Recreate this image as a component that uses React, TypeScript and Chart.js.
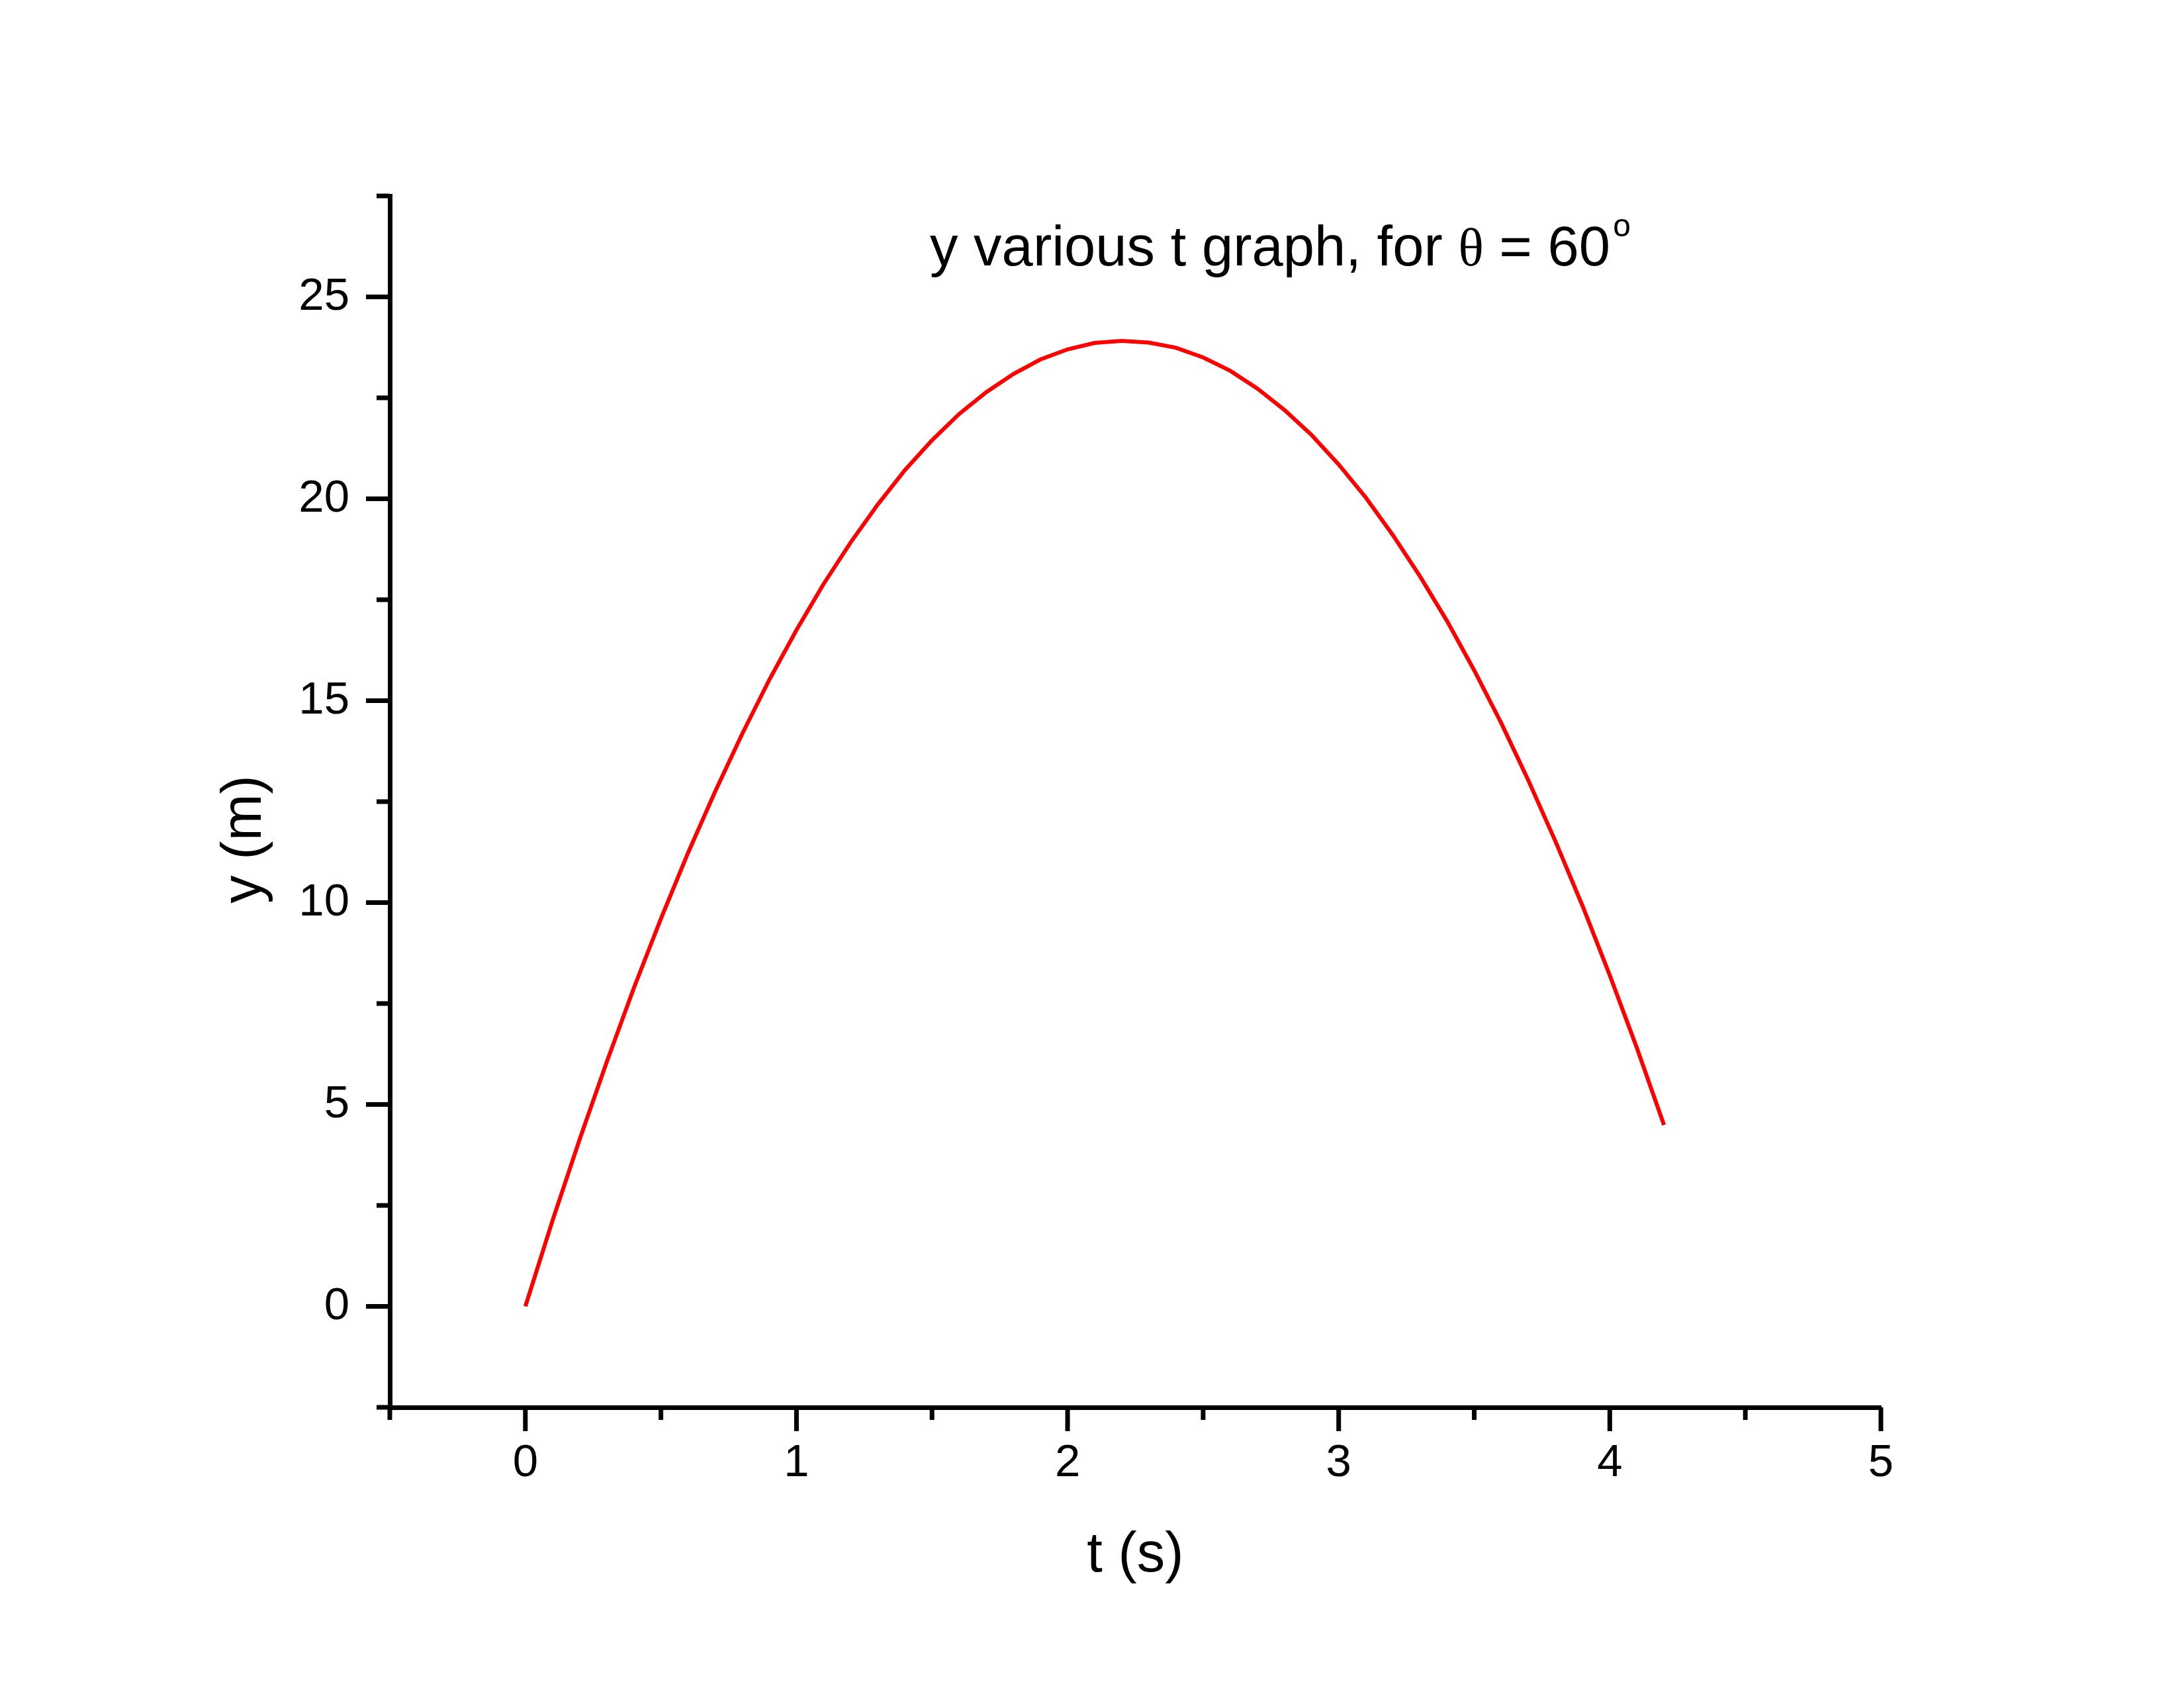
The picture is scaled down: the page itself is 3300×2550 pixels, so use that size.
import React, { useEffect, useRef } from "react";
import { Chart, registerables } from "chart.js";

Chart.register(...registerables);

const timeValues: number[] = [
  0, 0.1, 0.2, 0.3, 0.4, 0.5, 0.6, 0.7, 0.8, 0.9, 1.0, 1.1, 1.2, 1.3, 1.4, 1.5,
  1.6, 1.7, 1.8, 1.9, 2.0, 2.1, 2.2, 2.3, 2.4, 2.5, 2.6, 2.7, 2.8, 2.9, 3.0,
  3.1, 3.2, 3.3, 3.4, 3.5, 3.6, 3.7, 3.8, 3.9, 4.0, 4.1, 4.2,
];
const heightValues: number[] = [
  0, 2.12, 4.13, 6.05, 7.88, 9.6, 11.23, 12.75, 14.18, 15.52, 16.75, 17.89,
  18.92, 19.86, 20.71, 21.45, 22.1, 22.64, 23.09, 23.45, 23.7, 23.86, 23.91,
  23.87, 23.74, 23.5, 23.17, 22.73, 22.2, 21.58, 20.85, 20.03, 19.1, 18.08,
  16.97, 15.75, 14.44, 13.02, 11.51, 9.91, 8.2, 6.4, 4.49,
];

const xMin = -0.5;
const xMax = 5;
const xStep = 0.5;
const yMin = -2.5;
const yMax = 27.5;
const yStep = 2.5;

const titleParts = ["y various t graph, for ", "\u03b8", " = 60", "o"];
const xAxisTitle = "t (s)";
const yAxisTitle = "y (m)";

const SANS = "Arial, 'Liberation Sans', sans-serif";
const SERIF = "'Times New Roman', 'Liberation Serif', serif";

const decorPlugin = {
  id: "decor",
  afterDraw(chart: any) {
    const ctx = chart.ctx as CanvasRenderingContext2D;
    const area = chart.chartArea;
    const xs = chart.scales.x;
    const ys = chart.scales.y;
    ctx.save();
    ctx.strokeStyle = "#000";
    ctx.lineWidth = 7;
    ctx.lineCap = "butt";
    // x ticks
    xs.ticks.forEach((t: any) => {
      const px = xs.getPixelForValue(t.value);
      const major = Math.abs(t.value - Math.round(t.value)) < 1e-6;
      const len = major ? 36 : 19;
      ctx.beginPath();
      ctx.moveTo(px, area.bottom);
      ctx.lineTo(px, area.bottom + len);
      ctx.stroke();
    });
    // y ticks
    ys.ticks.forEach((t: any) => {
      const py = ys.getPixelForValue(t.value);
      const major = Math.abs(t.value / 5 - Math.round(t.value / 5)) < 1e-6;
      const len = major ? 36 : 20;
      ctx.beginPath();
      ctx.moveTo(area.left, py);
      ctx.lineTo(area.left - len, py);
      ctx.stroke();
    });

    ctx.fillStyle = "#000";
    ctx.textBaseline = "alphabetic";
    // title
    let x = area.left + 816;
    const base = area.top + 105;
    ctx.textAlign = "left";
    ctx.font = `85px ${SANS}`;
    ctx.fillText(titleParts[0], x, base);
    x += ctx.measureText(titleParts[0]).width;
    ctx.font = `80px ${SERIF}`;
    ctx.fillText(titleParts[1], x, base);
    x += ctx.measureText(titleParts[1]).width;
    ctx.font = `85px ${SANS}`;
    ctx.fillText(titleParts[2], x, base);
    x += ctx.measureText(titleParts[2]).width + 4;
    ctx.font = `48px ${SANS}`;
    ctx.fillText(titleParts[3], x, base - 44);

    // x axis title
    ctx.font = `85px ${SANS}`;
    ctx.textAlign = "center";
    ctx.fillText(xAxisTitle, (area.left + area.right) / 2, area.bottom + 248);

    // y axis title
    ctx.save();
    ctx.translate(area.left - 195, (area.top + area.bottom) / 2 + 57);
    ctx.rotate(-Math.PI / 2);
    ctx.textAlign = "center";
    ctx.fillText(yAxisTitle, 0, 0);
    ctx.restore();

    ctx.restore();
  },
};

export default function App() {
  const canvasRef = useRef<HTMLCanvasElement | null>(null);

  useEffect(() => {
    const canvas = canvasRef.current;
    if (!canvas) return;
    const points = timeValues.map((t, i) => ({ x: t, y: heightValues[i] }));
    const chart = new Chart(canvas, {
      type: "line",
      data: {
        datasets: [
          {
            data: points,
            borderColor: "#ff0000",
            borderWidth: 6,
            pointRadius: 0,
            tension: 0,
            fill: false,
          },
        ],
      },
      options: {
        animation: false,
        responsive: false,
        maintainAspectRatio: false,
        devicePixelRatio: 1,
        layout: { padding: { left: 0, top: 288, right: 450, bottom: 0 } },
        plugins: {
          legend: { display: false },
          title: { display: false },
          tooltip: { enabled: false },
        },
        scales: {
          x: {
            type: "linear",
            min: xMin,
            max: xMax,
            afterFit: (scale: any) => {
              scale.height = 416;
            },
            grid: { display: false, drawTicks: false, drawOnChartArea: false },
            border: { display: true, color: "#000", width: 7 },
            ticks: {
              stepSize: xStep,
              padding: 44,
              color: "#000",
              font: { family: SANS, size: 69 },
              maxRotation: 0,
              autoSkip: false,
              callback: (v: any) => {
                const n = Number(v);
                return Math.abs(n - Math.round(n)) < 1e-6 ? String(Math.round(n)) : "";
              },
            },
          },
          y: {
            type: "linear",
            min: yMin,
            max: yMax,
            afterFit: (scale: any) => {
              scale.width = 581;
            },
            grid: { display: false, drawTicks: false, drawOnChartArea: false },
            border: { display: true, color: "#000", width: 7 },
            ticks: {
              stepSize: yStep,
              padding: 61,
              color: "#000",
              font: { family: SANS, size: 69 },
              autoSkip: false,
              callback: (v: any) => {
                const n = Number(v);
                return Math.abs(n / 5 - Math.round(n / 5)) < 1e-6 ? String(Math.round(n)) : "";
              },
            },
          },
        },
      },
      plugins: [decorPlugin],
    } as any);
    return () => chart.destroy();
  }, []);

  return (
    <div style={{ width: 3284, height: 2534, background: "#fff" }}>
      <canvas
        ref={canvasRef}
        width={3284}
        height={2534}
        style={{ display: "block", width: 3284, height: 2534 }}
      />
    </div>
  );
}
